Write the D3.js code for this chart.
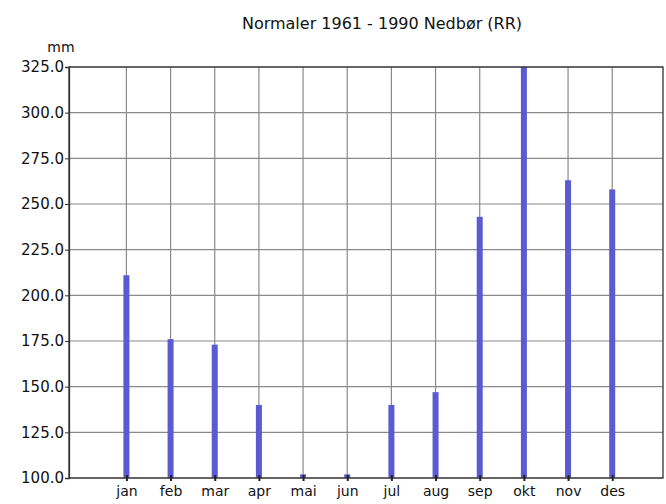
<!DOCTYPE html>
<html><head><meta charset="utf-8">
<script src="https://cdn.jsdelivr.net/npm/d3@7"></script>
<style>body{margin:0;background:#fff}svg{display:block}text{font-family:"DejaVu Sans",sans-serif;fill:#111}</style>
</head><body>
<svg id="c" width="666" height="504"></svg>
<script>
const months = ["jan","feb","mar","apr","mai","jun","jul","aug","sep","okt","nov","des"];
const precip = [211, 176, 173, 140, 102, 102, 140, 147, 243, 330, 263, 258];
const yTicks = [100,125,150,175,200,225,250,275,300,325];
const title = "Normaler 1961 - 1990 Nedbør (RR)";
const unit = "mm";

const svg = d3.select("#c");
const L = 69, R = 663, T = 67, B = 478;
const y = d3.scaleLinear().domain([100, 325]).range([B, T]);
const x = d3.scaleLinear().domain([-1.30, 12.15]).range([L, R]);

svg.append("defs").append("clipPath").attr("id","cp")
  .append("rect").attr("x",L).attr("y",T).attr("width",R-L).attr("height",B-T);

svg.append("g").selectAll("line").data(yTicks).join("line")
  .attr("x1",L).attr("x2",R).attr("y1",d=>y(d)).attr("y2",d=>y(d))
  .attr("stroke","#8a8a8a").attr("stroke-width",1.2);
svg.append("g").selectAll("line").data(months).join("line")
  .attr("x1",(d,i)=>x(i)).attr("x2",(d,i)=>x(i)).attr("y1",T).attr("y2",B)
  .attr("stroke","#8a8a8a").attr("stroke-width",1.2);

const bw = 6;
svg.append("g").attr("clip-path","url(#cp)").selectAll("rect").data(precip).join("rect")
  .attr("x",(d,i)=>x(i)-bw/2).attr("width",bw)
  .attr("y",d=>y(d)).attr("height",d=>B-y(d))
  .attr("fill","#5a5ad2");

svg.append("rect").attr("x",L).attr("y",T).attr("width",R-L).attr("height",B-T)
  .attr("fill","none").attr("stroke","#333").attr("stroke-width",1.3);

const ya = svg.append("g").attr("transform",`translate(${L},0)`)
  .call(d3.axisLeft(y).tickValues(yTicks).tickFormat(d3.format(".1f")).tickSize(4).tickPadding(1));
ya.select(".domain").attr("stroke","#333").attr("stroke-width",1.3);
ya.selectAll(".tick line").attr("stroke","#333");
ya.selectAll("text").attr("font-size",15).attr("font-family","DejaVu Sans, sans-serif").attr("fill","#222");

const xa = svg.append("g").attr("transform",`translate(0,${B})`)
  .call(d3.axisBottom(x).tickValues(d3.range(12)).tickFormat(i=>months[i]).tickSize(3).tickPadding(5));
xa.select(".domain").remove();
xa.selectAll(".tick line").attr("stroke","#222").attr("stroke-width",2).attr("y1",-3);
xa.selectAll("text").attr("font-size",14).attr("font-family","DejaVu Sans, sans-serif").attr("fill","#222");

svg.append("text").attr("x",382).attr("y",29).attr("text-anchor","middle")
  .attr("font-size",16).text(title);
svg.append("text").attr("x",61).attr("y",52).attr("text-anchor","middle")
  .attr("font-size",14).text(unit);
</script>
</body></html>
